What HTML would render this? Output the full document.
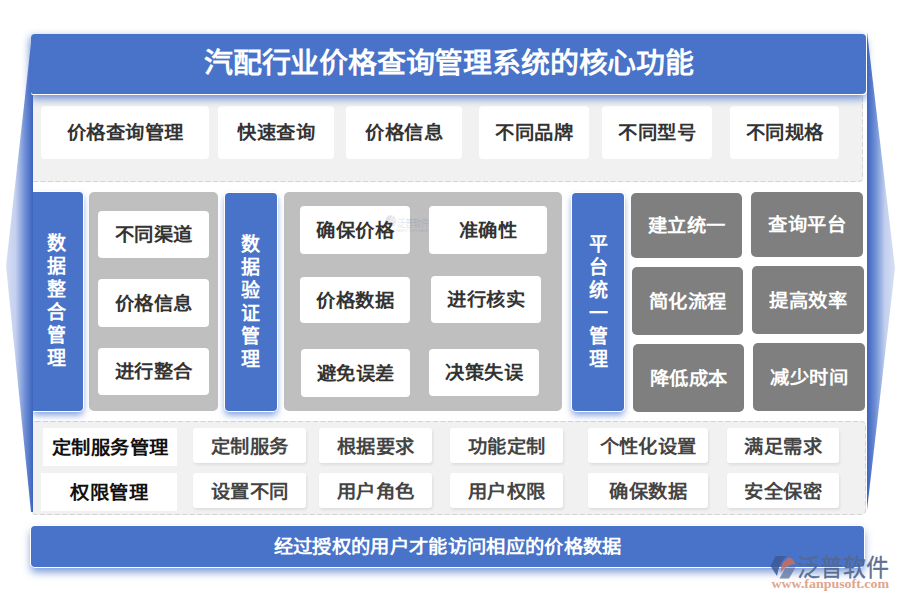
<!DOCTYPE html>
<html lang="zh-CN"><head><meta charset="utf-8">
<style>
*{margin:0;padding:0;box-sizing:border-box}
html,body{width:900px;height:600px;overflow:hidden;background:#fff}
body{position:relative;font-family:"Liberation Sans",sans-serif;font-weight:bold}
.a{position:absolute}
.c{display:flex;align-items:center;justify-content:center;white-space:nowrap}
.t{display:inline-block;transform:scaleY(.94);letter-spacing:.35px;margin-left:.35px}
.blue{background:#4873c9}
.title{z-index:3;left:31px;top:34px;width:835px;height:59.5px;border-radius:4px 4px 4px 2px;padding-bottom:6px;color:#fff;font-size:29px;
  box-shadow:1px 1px 0 #fff, 0 1px 0 #fff, 0 5px 8px rgba(72,115,201,.75), -3px 0 6px rgba(72,115,201,.2)}
.p1{left:33px;top:94px;width:830px;height:88px;background:#f1f1f1;border-radius:0 0 4px 4px}
.w1{background:#fff;border-radius:4px;color:#333;font-size:19.3px;height:53px;top:106px;padding-bottom:3px}
.vb{background:#4873c9;border-radius:4px;color:#fff;font-size:19px;line-height:23px;text-align:center;z-index:3;
  box-shadow:0 0 0 1px #fff, 0 4px 7px rgba(72,115,201,.7)}
.vb span{display:block;width:1em;margin:0 auto;white-space:normal;word-break:break-all}
.g1{background:#bfbfbf;border-radius:5px}
.wb{background:#fff;border-radius:4px;color:#333;font-size:19.3px;padding-bottom:3px}
.dg{background:#7f7f7f;border-radius:5px;color:#fff;font-size:19.3px;padding-bottom:2px}
.p3{left:31px;top:421px;width:835px;height:94px;background:#f1f1f1;border-radius:5px}
.r3{background:#fff;border-radius:3px;color:#444;font-size:19.3px;height:35px;padding-bottom:2px;box-shadow:1px 2px 3px rgba(0,0,0,.08)}
.r3h{background:#fff;color:#111;font-size:19.3px;padding-bottom:2px}
.bar{z-index:3;left:31px;top:526px;width:833px;height:41px;border-radius:4px;color:#fff;font-size:19.3px;padding-bottom:3px;
  box-shadow:0 0 0 1px #fff, 0 5px 8px rgba(72,115,201,.75)}
</style></head><body>

<svg class="a" style="left:0;top:0;z-index:2" width="900" height="600">
  <defs>
    <linearGradient id="gl" x1="6" y1="0" x2="33" y2="0" gradientUnits="userSpaceOnUse">
      <stop offset="0" stop-color="#d6dff4"/>
      <stop offset="0.35" stop-color="#c3d0ee"/>
      <stop offset="0.7" stop-color="#6f8fd6"/>
      <stop offset="1" stop-color="#3d63bd"/>
    </linearGradient>
    <linearGradient id="gr" x1="895" y1="0" x2="867" y2="0" gradientUnits="userSpaceOnUse">
      <stop offset="0" stop-color="#d6dff4"/>
      <stop offset="0.35" stop-color="#c3d0ee"/>
      <stop offset="0.7" stop-color="#6f8fd6"/>
      <stop offset="1" stop-color="#3d63bd"/>
    </linearGradient>
  </defs>
  <polygon points="31.6,38 6,266 31,512 33,512 33,38" fill="url(#gl)"/>
  <polygon points="867,32 895,268 867,510" fill="url(#gr)"/>
</svg>

<!-- panels -->
<div class="a p1"></div>
<div class="a p3"></div>
<svg class="a" style="left:0;top:0;z-index:1" width="900" height="600">
  <path d="M33,181.5 L858.5,181.5 Q862.5,181.5 862.5,177.5 L862.5,94" fill="none" stroke="#d4d4d4" stroke-width="1" stroke-dasharray="5 2.5"/>
  <rect x="31.5" y="421.5" width="834" height="93" rx="4" fill="none" stroke="#d4d4d4" stroke-width="1" stroke-dasharray="5 2.5"/>
</svg>

<div class="a title blue c"><span class="t" style="transform:scaleY(.97);letter-spacing:-.18px;margin-left:.82px;position:relative;top:-.5px">汽配行业价格查询管理系统的核心功能</span></div>

<div class="a c w1" style="left:41px;width:168px"><span class="t">价格查询管理</span></div>
<div class="a c w1" style="left:218px;width:116px"><span class="t">快速查询</span></div>
<div class="a c w1" style="left:346px;width:116px"><span class="t">价格信息</span></div>
<div class="a c w1" style="left:479px;width:110px"><span class="t">不同品牌</span></div>
<div class="a c w1" style="left:602px;width:110px"><span class="t">不同型号</span></div>
<div class="a c w1" style="left:730px;width:109px"><span class="t">不同规格</span></div>

<!-- row 2 -->
<div class="a vb c" style="left:33px;top:192px;width:50px;height:218.5px;border-radius:0 4px 4px 0;padding-right:4px;z-index:1"><span>数据整合管理</span></div>
<div class="a g1" style="left:89px;top:192px;width:129px;height:218.5px"></div>
<div class="a c wb" style="left:98px;top:211px;width:111px;height:47px"><span class="t">不同渠道</span></div>
<div class="a c wb" style="left:98px;top:279px;width:111px;height:48px"><span class="t">价格信息</span></div>
<div class="a c wb" style="left:98px;top:348px;width:111px;height:47px"><span class="t">进行整合</span></div>

<div class="a vb c" style="left:224.5px;top:193px;width:52.5px;height:217.5px"><span>数据验证管理</span></div>
<div class="a g1" style="left:284px;top:192px;width:278px;height:218.5px"></div>
<div class="a c wb" style="left:300px;top:206px;width:110px;height:48px"><span class="t">确保价格</span></div>
<div class="a c wb" style="left:429px;top:206px;width:118px;height:48px"><span class="t">准确性</span></div>
<div class="a c wb" style="left:300px;top:277px;width:110px;height:46px"><span class="t">价格数据</span></div>
<div class="a c wb" style="left:431px;top:276px;width:110px;height:47px"><span class="t">进行核实</span></div>
<div class="a c wb" style="left:301px;top:349px;width:109px;height:48px"><span class="t">避免误差</span></div>
<div class="a c wb" style="left:429px;top:349px;width:110px;height:47px"><span class="t">决策失误</span></div>

<div class="a vb c" style="left:572px;top:193px;width:52px;height:217.5px"><span>平台统一管理</span></div>
<div class="a c dg" style="left:631px;top:193px;width:111px;height:64.5px"><span class="t">建立统一</span></div>
<div class="a c dg" style="left:751px;top:192px;width:112px;height:64.5px"><span class="t">查询平台</span></div>
<div class="a c dg" style="left:632px;top:267px;width:111px;height:67.5px"><span class="t">简化流程</span></div>
<div class="a c dg" style="left:752px;top:266px;width:112px;height:67.5px"><span class="t">提高效率</span></div>
<div class="a c dg" style="left:633px;top:344px;width:111px;height:67.5px"><span class="t">降低成本</span></div>
<div class="a c dg" style="left:753px;top:343px;width:112px;height:67.5px"><span class="t">减少时间</span></div>

<!-- row 3 -->
<div class="a c r3h" style="left:43px;top:428px;width:134px;height:38px"><span class="t">定制服务管理</span></div>
<div class="a c r3h" style="left:41px;top:473px;width:136px;height:38px"><span class="t">权限管理</span></div>
<div class="a c r3" style="left:193px;top:428px;width:113px"><span class="t">定制服务</span></div>
<div class="a c r3" style="left:319px;top:428px;width:113px"><span class="t">根据要求</span></div>
<div class="a c r3" style="left:450px;top:428px;width:113px"><span class="t">功能定制</span></div>
<div class="a c r3" style="left:588px;top:428px;width:120px"><span class="t">个性化设置</span></div>
<div class="a c r3" style="left:727px;top:428px;width:112px"><span class="t">满足需求</span></div>
<div class="a c r3" style="left:193px;top:473px;width:113px"><span class="t">设置不同</span></div>
<div class="a c r3" style="left:319px;top:473px;width:113px"><span class="t">用户角色</span></div>
<div class="a c r3" style="left:450px;top:473px;width:113px"><span class="t">用户权限</span></div>
<div class="a c r3" style="left:588px;top:473px;width:120px"><span class="t">确保数据</span></div>
<div class="a c r3" style="left:727px;top:473px;width:112px"><span class="t">安全保密</span></div>

<div class="a bar blue c"><span class="t">经过授权的用户才能访问相应的价格数据</span></div>

<svg class="a" style="left:760px;top:548px;z-index:5" width="140" height="52" viewBox="760 548 140 52">
  <g opacity="0.85">
    <path d="M775.5,556 L786.5,556 Q779,563 777,576 L770.5,566 Z" fill="#3f5a94"/>
    <path d="M780.5,572.5 Q781,560 789.5,557.5 Q794,559 795,564 Q786,565 780.5,572.5 Z" fill="#c8705e"/>
    <path d="M785.5,567.5 L795.5,567.5 L789,578.5 L779.5,578.5 Z" fill="#6a7fa8"/>
  </g>
  <text x="797" y="575.5" font-family="Liberation Sans, sans-serif" font-size="24" font-weight="normal" fill="#56688f" fill-opacity="0.95" stroke="#56688f" stroke-width="0.35" stroke-opacity="0.9" textLength="92" lengthAdjust="spacingAndGlyphs">泛普软件</text>
  <text x="771.5" y="587.5" font-family="Liberation Serif, serif" font-weight="bold" font-size="12.5" fill="#e0a58c" textLength="117.5" lengthAdjust="spacingAndGlyphs">www.fanpusoft.com</text>
</svg>
<svg class="a" style="left:380px;top:210px;z-index:5" width="60" height="26" viewBox="380 210 60 26">
  <g opacity="0.16" font-weight="normal">
    <path d="M388,215.5 L393,215.5 Q389.5,219 389,225 L385,220.5 Z" fill="#3f5a94"/>
    <path d="M390,222.5 Q390.5,217 394,216 Q396,217 396,219.5 Q392,220 390,222.5 Z" fill="#c8705e"/>
    <path d="M392,220.5 L397,220.5 L394,226 L389.5,226 Z" fill="#6a7fa8"/>
    <text x="397" y="227" font-family="Liberation Sans, sans-serif" font-size="10.5" fill="#3f5a94" textLength="31.5" lengthAdjust="spacingAndGlyphs">泛普软件</text>
    <text x="396" y="232" font-family="Liberation Sans, sans-serif" font-size="4" fill="#3f5a94" textLength="32" lengthAdjust="spacingAndGlyphs">FANPU SOFTWARE</text>
  </g>
</svg>

</body></html>
